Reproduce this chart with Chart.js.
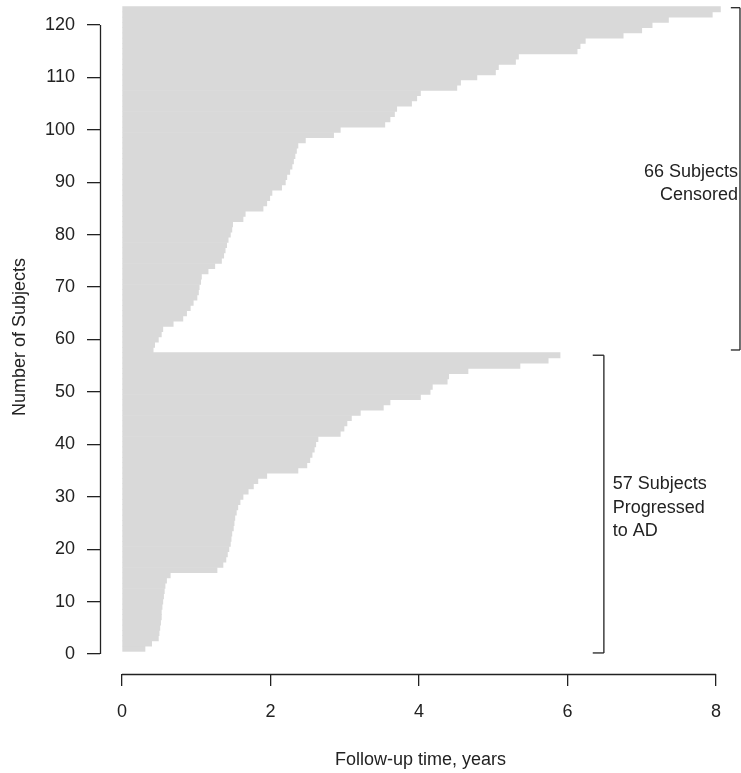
<!DOCTYPE html>
<html>
<head>
<meta charset="utf-8">
<title>Follow-up time per subject</title>
<script src="https://cdn.jsdelivr.net/npm/chart.js@4.4.1/dist/chart.umd.min.js"></script>
<style>
  html, body { margin: 0; padding: 0; background: #fff; }
  canvas { display: block; }
</style>
</head>
<body>
<canvas id="followupChart" width="741" height="773"></canvas>
<script>
/*
  Follow-up time per subject, one bar each.
  - Subjects 1..57 progressed to AD, 58..123 censored
  - Both groups sorted by follow-up time (years)
*/

// --- Data ---

const progressedYears = [
  0.31, 0.40, 0.49, 0.50, 0.51, 0.52, 0.53, 0.53, 0.54, 0.55,
  0.56, 0.57, 0.58, 0.60, 0.65, 1.28, 1.36, 1.40, 1.42, 1.44,
  1.46, 1.47, 1.48, 1.50, 1.51, 1.52, 1.54, 1.56, 1.59, 1.63,
  1.70, 1.77, 1.83, 1.95, 2.37, 2.49, 2.53, 2.56, 2.59, 2.61,
  2.64, 2.94, 2.99, 3.03, 3.09, 3.21, 3.52, 3.61, 4.02, 4.15,
  4.18, 4.38, 4.40, 4.66, 5.36, 5.74, 5.90
];

const censoredYears = [
  0.42, 0.44, 0.49, 0.53, 0.55, 0.69, 0.82, 0.87, 0.92, 0.96,
  1.01, 1.03, 1.04, 1.06, 1.07, 1.16, 1.25, 1.34, 1.37, 1.39,
  1.41, 1.43, 1.46, 1.48, 1.49, 1.63, 1.66, 1.90, 1.95, 1.99,
  2.02, 2.15, 2.20, 2.22, 2.26, 2.29, 2.31, 2.33, 2.35, 2.37,
  2.47, 2.85, 2.94, 3.54, 3.61, 3.67, 3.70, 3.90, 3.97, 4.02,
  4.51, 4.56, 4.78, 5.03, 5.07, 5.30, 5.34, 6.13, 6.17, 6.24,
  6.75, 7.00, 7.14, 7.36, 7.95, 8.06
];

const xTicks = [0, 2, 4, 6, 8];
const yTicks = [0, 10, 20, 30, 40, 50, 60, 70, 80, 90, 100, 110, 120];

const progressedNote = ['57 Subjects', 'Progressed', 'to AD'];
const censoredNote = ['66 Subjects', 'Censored'];

const FONT = "'Liberation Sans', Arial, Helvetica, sans-serif";
const INK = '#222';
const BAR_GREY = '#d9d9d9';

// subject number on y, follow-up time on x
const progressedPoints = progressedYears.map((t, i) => ({ x: t, y: i + 1 }));
const censoredPoints = censoredYears.map((t, i) => ({ x: t, y: progressedYears.length + i + 1 }));

// --- Plugin: R style axis lines, brackets and notes ---

const rStyleExtras = {
  id: 'rStyleExtras',
  afterDraw(chart) {
    const ctx = chart.ctx;
    const xs = chart.scales.x;
    const ys = chart.scales.y;
    const area = chart.chartArea;

    const seg = (x1, y1, x2, y2) => {
      ctx.beginPath();
      ctx.moveTo(x1, y1);
      ctx.lineTo(x2, y2);
      ctx.stroke();
    };

    ctx.save();
    ctx.strokeStyle = INK;
    ctx.lineWidth = 1.3;

    // axis lines only span first..last tick
    const axX = Math.round(area.left) + 0.5;
    seg(axX, ys.getPixelForValue(yTicks[0]), axX, ys.getPixelForValue(yTicks[yTicks.length - 1]));
    const axY = Math.round(area.bottom) + 0.5;
    seg(xs.getPixelForValue(xTicks[0]), axY, xs.getPixelForValue(xTicks[xTicks.length - 1]), axY);

    // "]" brackets: [x of spine, x of tick ends, y from, y to]
    const bracket = (xSpine, xTick, yFrom, yTo) => {
      const sx = xs.getPixelForValue(xSpine);
      const tx = xs.getPixelForValue(xTick);
      const y1 = ys.getPixelForValue(yFrom);
      const y2 = ys.getPixelForValue(yTo);
      seg(sx, y1, sx, y2);
      seg(tx, y1, sx, y1);
      seg(tx, y2, sx, y2);
    };
    bracket(6.49, 6.34, 0.2, 57);
    bracket(8.323, 8.20, 58, 123.3);

    // notes
    ctx.fillStyle = INK;
    ctx.font = `18px ${FONT}`;
    ctx.textBaseline = 'middle';
    const lineGap = 23.5;

    ctx.textAlign = 'left';
    let cy = ys.getPixelForValue(27.9) - lineGap * (progressedNote.length - 1) / 2;
    progressedNote.forEach((txt, i) => ctx.fillText(txt, xs.getPixelForValue(6.61), cy + i * lineGap));

    ctx.textAlign = 'right';
    cy = ys.getPixelForValue(89.8) - lineGap * (censoredNote.length - 1) / 2;
    censoredNote.forEach((txt, i) => ctx.fillText(txt, xs.getPixelForValue(8.296), cy + i * lineGap));

    ctx.restore();
  }
};

// --- Chart ---

const tickFont = { family: FONT, size: 18 };

new Chart(document.getElementById('followupChart').getContext('2d'), {
  type: 'bar',
  data: {
    datasets: [
      {
        label: 'Progressed to AD',
        data: progressedPoints,
        backgroundColor: BAR_GREY,
        borderWidth: 0,
        barPercentage: 1,
        categoryPercentage: 1,
        grouped: false
      },
      {
        label: 'Censored',
        data: censoredPoints,
        backgroundColor: BAR_GREY,
        borderWidth: 0,
        barPercentage: 1,
        categoryPercentage: 1,
        grouped: false
      }
    ]
  },
  options: {
    indexAxis: 'y',
    responsive: false,
    animation: false,
    events: [],
    layout: { padding: 0 },
    plugins: {
      legend: { display: false },
      tooltip: { enabled: false }
    },
    scales: {
      x: {
        type: 'linear',
        position: 'bottom',
        min: -0.2963,
        max: 8.3367,
        offset: false,
        afterBuildTicks: s => { s.ticks = xTicks.map(v => ({ value: v })); },
        afterFit: s => { s.height = 99; s.paddingLeft = 0; s.paddingRight = 0; },
        border: { display: false },
        grid: { offset: false, drawOnChartArea: false, drawTicks: true, tickLength: 12, color: INK, lineWidth: 1.3 },
        ticks: { padding: 15, color: INK, font: tickFont, maxRotation: 0, autoSkip: false },
        title: {
          display: true,
          text: 'Follow-up time, years',
          color: INK,
          font: tickFont,
          padding: { top: 0, bottom: 2 }
        }
      },
      y: {
        type: 'linear',
        position: 'left',
        min: -3.816,
        max: 124.77,
        offset: false,
        afterBuildTicks: s => { s.ticks = yTicks.map(v => ({ value: v })); },
        afterFit: s => { s.width = 100; s.paddingTop = 0; s.paddingBottom = 0; },
        border: { display: false },
        grid: { offset: false, drawOnChartArea: false, drawTicks: true, tickLength: 13, color: INK, lineWidth: 1.3 },
        ticks: { padding: 12, color: INK, font: tickFont, autoSkip: false },
        title: {
          display: true,
          text: 'Number of Subjects',
          color: INK,
          font: tickFont,
          padding: { top: 9, bottom: 0 }
        }
      }
    }
  },
  plugins: [rStyleExtras]
});
</script>
</body>
</html>
